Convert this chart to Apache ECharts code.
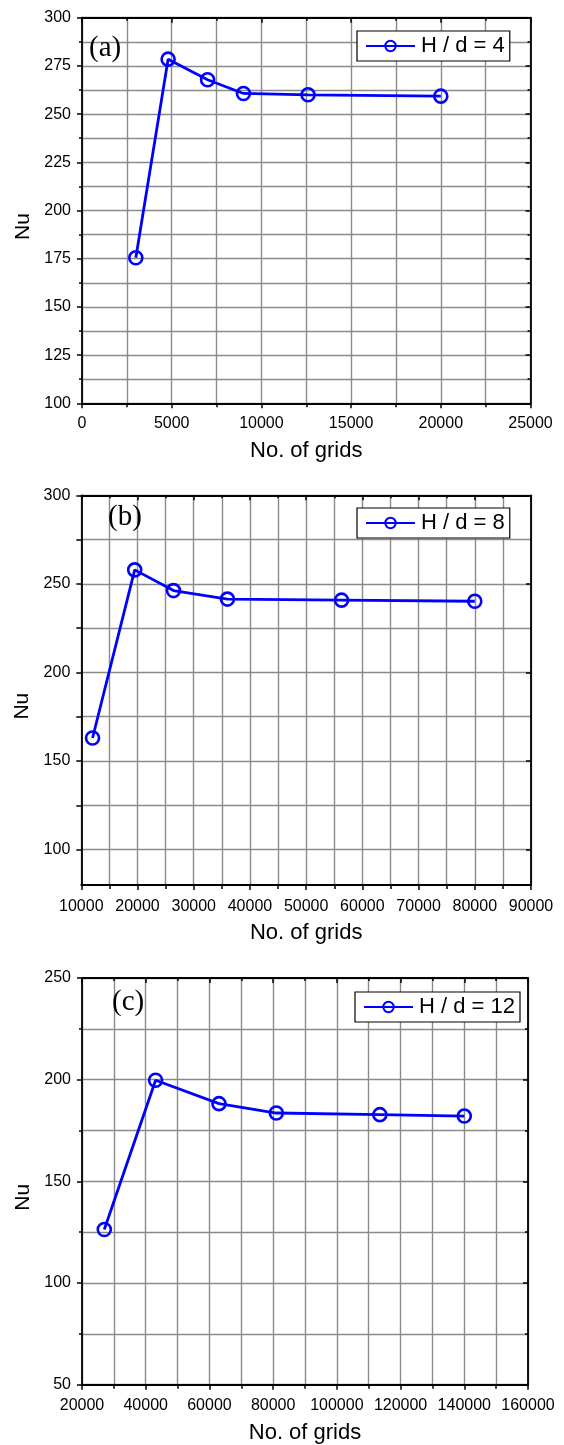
<!DOCTYPE html>
<html><head><meta charset="utf-8">
<script src="https://cdn.jsdelivr.net/npm/echarts@6/dist/echarts.min.js"></script>
<style>html,body{margin:0;padding:0;background:#fff}#c{width:564px;height:1445px}</style>
</head><body><div id="c"></div>
<script>
// ---- data ----
const gridsA = [3000, 4800, 7000, 9000, 12600, 20000];
const nuA = [175.5, 278.5, 267.8, 260.7, 260.0, 259.3];
const gridsB = [12000, 19500, 26400, 36000, 56300, 80000];
const nuB = [163.0, 257.9, 246.2, 241.4, 240.8, 240.2];
const gridsC = [27000, 43100, 63000, 81000, 113500, 140000];
const nuC = [126.3, 199.7, 188.2, 183.6, 182.8, 182.1];
const seriesNames = ['H / d = 4', 'H / d = 8', 'H / d = 12'];
const panelLabels = ['(a)', '(b)', '(c)'];
// axis ranges: [min, max, labelInterval]
const xRanges = [[0, 25000, 5000], [10000, 90000, 10000], [20000, 160000, 20000]];
const yRanges = [[100, 300, 25], [80, 300, 50], [50, 250, 50]];
const yLabelsB = [100, 150, 200, 250, 300];
const yGridB = [100, 125, 150, 175, 200, 225, 250, 275, 300];

const FONT = '"Liberation Sans", Arial, sans-serif';
const BLUE = '#0000ff';
const GRIDC = '#8a8a8a';
const plain = v => String(v);

const grids = [
  {left: 82, right: 33.5, top: 17.7, height: 385.6},
  {left: 81.3, right: 33, top: 495.3, height: 389.7},
  {left: 82, right: 36, top: 978, height: 406.7}
];
const legendPos = [{left: 357, top: 31}, {left: 357, top: 508}, {left: 355, top: 992}];
const labelPos = [{left: 89, top: 34}, {left: 108, top: 503}, {left: 112, top: 988}];
const xNameGap = [37, 37, 37];
const xLabelMargin = [12, 14, 13];

const xAxes = [], yAxes = [], series = [], legends = [], graphics = [];
const datas = [[gridsA, nuA], [gridsB, nuB], [gridsC, nuC]];

function splitStyle() { return {show: true, lineStyle: {color: GRIDC, width: 1.4}}; }

for (let i = 0; i < 3; i++) {
  const [xmin, xmax, xint] = xRanges[i];
  const [ymin, ymax, yint] = yRanges[i];
  xAxes.push({
    type: 'value', gridIndex: i, position: 'bottom', min: xmin, max: xmax, interval: xint,
    name: 'No. of grids', nameLocation: 'middle', nameGap: xNameGap[i],
    nameTextStyle: {fontFamily: FONT, fontSize: 22, color: '#000'},
    axisLine: {show: true, onZero: false, lineStyle: {color: '#000', width: 1.8}},
    axisTick: {show: true, inside: false, length: 5, lineStyle: {color: '#000', width: 1.5}},
    minorTick: {show: true, splitNumber: 2, length: 4, lineStyle: {color: '#000', width: 1.5}},
    axisLabel: {fontFamily: FONT, fontSize: 16, color: '#000', margin: xLabelMargin[i], formatter: plain, showMaxLabel: true, showMinLabel: true, hideOverlap: false},
    splitLine: splitStyle(), minorSplitLine: splitStyle()
  });
  xAxes.push({
    type: 'value', gridIndex: i, position: 'top', min: xmin, max: xmax, interval: xint,
    axisLine: {show: true, onZero: false, lineStyle: {color: '#000', width: 1.8}},
    axisTick: {show: true, inside: true, length: 5, lineStyle: {color: '#000', width: 1.5}},
    minorTick: {show: true, splitNumber: 2, length: 3, lineStyle: {color: '#000', width: 1.5}},
    axisLabel: {show: false}, splitLine: {show: false}
  });
  const yBase = {type: 'value', gridIndex: i, min: ymin, max: ymax};
  const leftY = Object.assign({}, yBase, {
    position: 'left',
    name: 'Nu', nameLocation: 'middle', nameGap: 47,
    nameTextStyle: {fontFamily: FONT, fontSize: 21, color: '#000', padding: [0, 32, 0, 0]},
    axisLine: {show: true, onZero: false, lineStyle: {color: '#000', width: 1.8}},
    axisTick: {show: true, inside: false, length: 5, lineStyle: {color: '#000', width: 1.5}},
    axisLabel: {fontFamily: FONT, fontSize: 16, color: '#000', margin: 11, formatter: plain, showMaxLabel: true, showMinLabel: true},
    splitLine: splitStyle()
  });
  const rightY = Object.assign({}, yBase, {
    position: 'right',
    axisLine: {show: true, onZero: false, lineStyle: {color: '#000', width: 1.8}},
    axisTick: {show: true, inside: true, length: 5, lineStyle: {color: '#000', width: 1.5}},
    axisLabel: {show: false}, splitLine: {show: false}
  });
  if (i === 1) {
    leftY.axisLabel.customValues = yLabelsB;
    leftY.axisTick.customValues = yGridB;
    leftY.splitLine.customValues = yGridB;
    rightY.axisTick.customValues = yLabelsB;
  } else {
    leftY.interval = yint; rightY.interval = yint;
    leftY.minorTick = {show: true, splitNumber: 2, length: 3, lineStyle: {color: '#000', width: 1.5}};
    leftY.minorSplitLine = splitStyle();
    rightY.minorTick = {show: true, splitNumber: 2, length: 3, lineStyle: {color: '#000', width: 1.5}};
  }
  yAxes.push(leftY, rightY);

  const [xs, ys] = datas[i];
  series.push({
    name: seriesNames[i], type: 'line', xAxisIndex: 2 * i, yAxisIndex: 2 * i,
    data: xs.map((x, k) => [x, ys[k]]),
    symbol: 'circle', symbolSize: 13, showSymbol: true,
    lineStyle: {color: BLUE, width: 2.8},
    itemStyle: {color: 'rgba(255,255,255,0)', borderColor: BLUE, borderWidth: 2.6},
    emphasis: {disabled: true}, z: 5
  });
  legends.push({
    data: [seriesNames[i]], left: legendPos[i].left, top: legendPos[i].top,
    orient: 'horizontal', backgroundColor: '#fff', borderColor: '#000', borderWidth: 1.2, borderRadius: 0,
    padding: [4, 5, 4, 8], itemWidth: 49, itemHeight: 13, itemGap: 6,
    textStyle: {fontFamily: FONT, fontSize: 22, color: '#000', padding: [0, 0, 0, 1]},
    selectedMode: false
  });
  graphics.push({
    type: 'text', left: labelPos[i].left, top: labelPos[i].top, z: 10,
    style: {text: panelLabels[i], font: '29px "Liberation Serif", "Times New Roman", serif', fill: '#000'}
  });
}

const chart = echarts.init(document.getElementById('c'), null, {renderer: 'canvas'});
chart.setOption({
  animation: false,
  backgroundColor: '#fff',
  grid: grids.map(g => Object.assign({containLabel: false, show: false}, g)),
  xAxis: xAxes, yAxis: yAxes, series: series, legend: legends, graphic: graphics
});
</script>
</body></html>
